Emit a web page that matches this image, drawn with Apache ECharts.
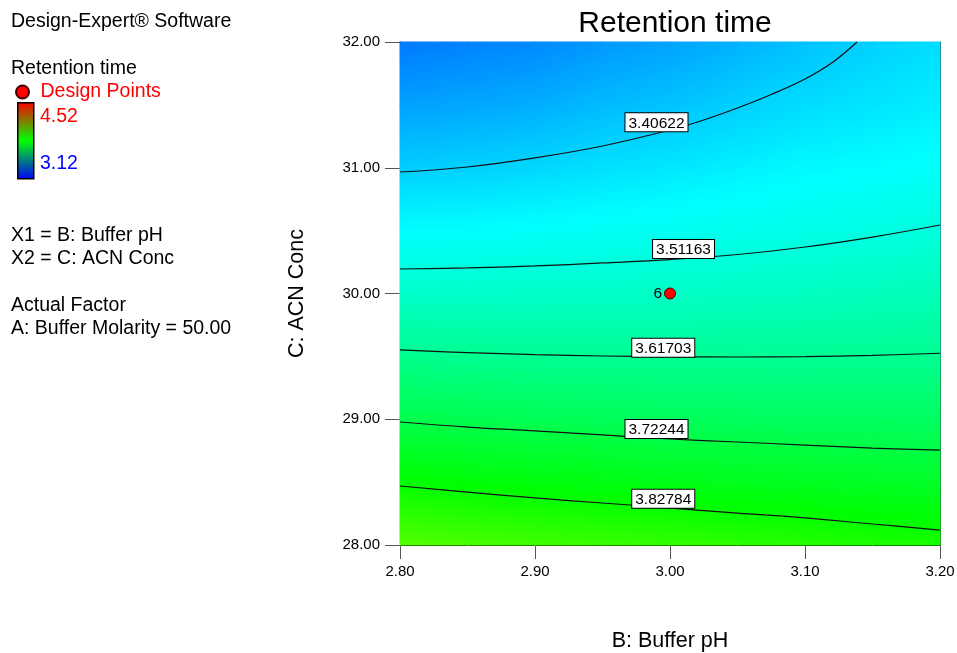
<!DOCTYPE html>
<html>
<head>
<meta charset="utf-8">
<script src="https://cdn.jsdelivr.net/npm/echarts@6/dist/echarts.min.js"></script>
<style>
html,body{margin:0;padding:0;background:#fff;}
#chart{width:957px;height:653px;}
</style>
</head>
<body>
<div id="chart"></div>
<script>
// ---------------- data ----------------
const chartTitle = 'Retention time';
const xAxisName = 'B: Buffer pH';
const yAxisName = 'C: ACN Conc';
const xTicks = [2.80, 2.90, 3.00, 3.10, 3.20];
const yTicks = [28.00, 29.00, 30.00, 31.00, 32.00];

// response surface grid (rows: ACN Conc, columns: Buffer pH)
const gridPH = [2.80, 2.85, 2.90, 2.95, 3.00, 3.05, 3.10, 3.15, 3.20];
const gridACN = [28.0, 28.5, 29.0, 29.5, 30.0, 30.5, 31.0, 31.5, 32.0];
const retention = [
  [3.934, 3.919, 3.907, 3.896, 3.888, 3.878, 3.869, 3.859, 3.849],
  [3.822, 3.812, 3.803, 3.796, 3.788, 3.782, 3.776, 3.770, 3.765],
  [3.718, 3.711, 3.706, 3.701, 3.697, 3.694, 3.691, 3.689, 3.688],
  [3.626, 3.622, 3.619, 3.618, 3.616, 3.616, 3.616, 3.619, 3.621],
  [3.543, 3.543, 3.544, 3.545, 3.549, 3.552, 3.556, 3.562, 3.568],
  [3.470, 3.472, 3.477, 3.483, 3.489, 3.495, 3.502, 3.508, 3.516],
  [3.402, 3.407, 3.415, 3.428, 3.437, 3.450, 3.462, 3.469, 3.478],
  [3.342, 3.349, 3.359, 3.376, 3.388, 3.404, 3.423, 3.434, 3.448],
  [3.287, 3.299, 3.308, 3.330, 3.344, 3.364, 3.385, 3.407, 3.425]
];

// contour lines
const contourLevels = [3.40622, 3.51163, 3.61703, 3.72244, 3.82784];
const contour1 = [[2.80,30.966],[2.85,31.006],[2.90,31.078],[2.95,31.173],[3.00,31.300],[3.025,31.380],[3.05,31.475],[3.075,31.583],[3.10,31.706],[3.12,31.835],[3.1385,32.0]];
const contour2 = [[2.80,30.195],[2.85,30.203],[2.90,30.219],[2.95,30.243],[3.00,30.270],[3.05,30.310],[3.10,30.370],[3.15,30.449],[3.20,30.545]];
const contour3 = [[2.80,29.551],[2.85,29.530],[2.90,29.514],[2.95,29.503],[3.00,29.497],[3.05,29.495],[3.10,29.498],[3.15,29.508],[3.20,29.525]];
const contour4 = [[2.80,28.978],[2.85,28.938],[2.90,28.907],[2.95,28.875],[3.00,28.843],[3.05,28.819],[3.10,28.795],[3.15,28.771],[3.20,28.755]];
const contour5 = [[2.80,28.469],[2.85,28.421],[2.90,28.374],[2.95,28.334],[3.00,28.294],[3.05,28.254],[3.10,28.215],[3.15,28.167],[3.20,28.119]];
const contourLabelAnchors = [[2.990,31.290],[3.010,30.282],[2.995,29.497],[2.990,28.851],[2.995,28.297]];

// design points: [pH, ACN, replicate count]
const designPoints = [[3.00, 30.00, 6]];

// legend range
const legendMax = 4.52;
const legendMin = 3.12;

// ---------------- styling ----------------
const FONT = "'Liberation Sans', Arial, Helvetica, sans-serif";
// Design-Expert style colour ramp over the legend range: blue, cyan, green, yellow, red
const rampColors = [[0,0,255],[0,255,255],[0,255,0],[255,255,0],[255,0,0]];

function colorOf(v) {
  let t = (v - legendMin) / (legendMax - legendMin);
  t = Math.max(0, Math.min(1, t));
  const seg = t * (rampColors.length - 1);
  let i = Math.floor(seg);
  if (i >= rampColors.length - 1) i = rampColors.length - 2;
  const f = seg - i;
  const a = rampColors[i], b = rampColors[i + 1];
  const c = a.map((ch, k) => Math.round(ch + (b[k] - ch) * f));
  return 'rgb(' + c[0] + ',' + c[1] + ',' + c[2] + ')';
}

const cells = [];
for (let r = 0; r < gridACN.length - 1; r++) {
  for (let c = 0; c < gridPH.length - 1; c++) {
    cells.push([gridPH[c], gridACN[r], gridPH[c + 1], gridACN[r + 1],
      retention[r][c], retention[r][c + 1], retention[r + 1][c], retention[r + 1][c + 1]]);
  }
}

function renderCell(params, api) {
  const x0 = api.value(0), y0 = api.value(1), x1 = api.value(2), y1 = api.value(3);
  const v00 = api.value(4), v10 = api.value(5), v01 = api.value(6), v11 = api.value(7);
  const pA = api.coord([x0, y0]);
  const pB = api.coord([x1, y1]);
  const left = pA[0], right = pB[0], top = pB[1], bottom = pA[1];
  const w = right - left, h = bottom - top;
  const gx = ((v10 - v00) + (v11 - v01)) / 2 / w;
  const gy = ((v00 - v01) + (v10 - v11)) / 2 / h;
  const vc = (v00 + v10 + v01 + v11) / 4;
  const cx = left + w / 2, cy = top + h / 2;
  const g = Math.hypot(gx, gy);
  let fill;
  if (g < 1e-12) {
    fill = colorOf(vc);
  } else {
    const ux = gx / g, uy = gy / g;
    const L = Math.hypot(w, h) / 2 + 2;
    const vs = vc - g * L, ve = vc + g * L;
    const stops = [];
    for (let k = 0; k <= 12; k++) stops.push({ offset: k / 12, color: colorOf(vs + (ve - vs) * k / 12) });
    fill = { type: 'linear', x: cx - ux * L, y: cy - uy * L, x2: cx + ux * L, y2: cy + uy * L, global: true, colorStops: stops };
  }
  return { type: 'rect', shape: { x: left - 0.5, y: top - 0.5, width: w + 1, height: h + 1 }, style: { fill: fill } };
}

const contours = [contour1, contour2, contour3, contour4, contour5];
const contourSeries = contours.map((pts, i) => ({
  type: 'line',
  name: 'contour ' + contourLevels[i],
  data: pts,
  smooth: 0.4,
  symbol: 'none',
  silent: true,
  lineStyle: { color: '#111', width: 1.2 },
  z: 3
}));

const labelData = contourLabelAnchors.map((p, i) => ({ value: [p[0], p[1]], level: contourLevels[i] }));

const chart = echarts.init(document.getElementById('chart'), null, { renderer: 'canvas' });
const axisNameStyle = { fontSize: 21.5, color: '#000', fontFamily: FONT };
const tickLabelStyle = { fontSize: 15, color: '#000', fontFamily: FONT };
const panelFont = 19.5;

chart.setOption({
  animation: false,
  backgroundColor: '#fff',
  textStyle: { fontFamily: FONT },
  title: {
    text: chartTitle,
    left: 670,
    textAlign: 'center',
    top: 4,
    textStyle: { fontSize: 30, fontWeight: 'normal', color: '#000', fontFamily: FONT }
  },
  legend: {
    data: ['Design Points'],
    left: 15,
    top: 82,
    padding: 0,
    icon: 'circle',
    itemWidth: 26,
    itemHeight: 13,
    selectedMode: false,
    textStyle: { color: '#ff0000', fontSize: panelFont, fontFamily: FONT }
  },
  grid: { left: 400, top: 42, width: 540, height: 503, containLabel: false, outerBoundsMode: 'none' },
  xAxis: [{
    type: 'value', min: xTicks[0], max: xTicks[xTicks.length - 1], interval: 0.1,
    name: xAxisName, nameLocation: 'middle', nameGap: 85, nameTextStyle: axisNameStyle,
    axisLine: { show: true, lineStyle: { color: '#000', width: 1 } },
    axisTick: { show: true, inside: false, length: 14, lineStyle: { color: '#555' } },
    axisLabel: { margin: 19, formatter: v => v.toFixed(2), ...tickLabelStyle },
    splitLine: { show: false }
  }, {
    type: 'value', position: 'top', min: xTicks[0], max: xTicks[xTicks.length - 1],
    axisLine: { show: true, lineStyle: { color: '#333', width: 1 } },
    axisTick: { show: false }, axisLabel: { show: false }, splitLine: { show: false }
  }],
  yAxis: [{
    type: 'value', min: yTicks[0], max: yTicks[yTicks.length - 1], interval: 1,
    name: yAxisName, nameLocation: 'middle', nameGap: 92, nameRotate: 90, nameTextStyle: axisNameStyle,
    axisLine: { show: true, lineStyle: { color: '#000', width: 1 } },
    axisTick: { show: true, inside: false, length: 15, lineStyle: { color: '#555' } },
    axisLabel: { margin: 20, formatter: v => v.toFixed(2), ...tickLabelStyle },
    splitLine: { show: false }
  }, {
    type: 'value', position: 'right', min: yTicks[0], max: yTicks[yTicks.length - 1],
    axisLine: { show: true, lineStyle: { color: '#444', width: 1 } },
    axisTick: { show: false }, axisLabel: { show: false }, splitLine: { show: false }
  }],
  series: [
    {
      type: 'custom',
      name: 'surface',
      renderItem: renderCell,
      data: cells,
      silent: true,
      z: 1,
      encode: { x: [0, 2], y: [1, 3] }
    },
    ...contourSeries,
    {
      type: 'scatter',
      name: 'contour labels',
      data: labelData,
      symbolSize: 0,
      silent: true,
      z: 5,
      itemStyle: { opacity: 1 },
      label: {
        show: true,
        position: 'top',
        distance: 0,
        opacity: 1,
        formatter: p => p.data.level.toFixed(5),
        backgroundColor: '#ffffff',
        borderColor: '#000',
        borderWidth: 1,
        padding: [2, 3, 0, 3],
        color: '#000',
        fontSize: 15.5,
        fontFamily: FONT
      }
    },
    {
      type: 'scatter',
      name: 'Design Points',
      data: designPoints,
      symbol: 'circle',
      symbolSize: 11,
      z: 6,
      itemStyle: { color: '#ff0000', borderColor: '#400', borderWidth: 1, opacity: 1 },
      label: {
        show: true,
        position: 'left',
        distance: 2,
        formatter: p => String(p.value[2]),
        color: '#000',
        fontSize: 15.5,
        fontFamily: FONT
      }
    }
  ],
  graphic: [
    { type: 'text', left: 11, top: 12, style: { text: 'Design-Expert® Software', fontSize: panelFont, fontFamily: FONT, fill: '#000' } },
    { type: 'text', left: 11, top: 59, style: { text: 'Retention time', fontSize: panelFont, fontFamily: FONT, fill: '#000' } },
    {
      type: 'rect', left: 17, top: 102,
      shape: { width: 16, height: 76 },
      style: {
        fill: { type: 'linear', x: 0, y: 0, x2: 0, y2: 1, colorStops: [
          { offset: 0, color: '#ff0000' }, { offset: 0.5, color: '#00ff00' }, { offset: 1, color: '#0000ff' }] },
        stroke: '#000', lineWidth: 1.5
      }
    },
    { type: 'text', left: 40, top: 107, style: { text: legendMax.toFixed(2), fontSize: panelFont, fontFamily: FONT, fill: '#ff0000' } },
    { type: 'text', left: 40, top: 154, style: { text: legendMin.toFixed(2), fontSize: panelFont, fontFamily: FONT, fill: '#0000ff' } },
    { type: 'text', left: 11, top: 226, style: { text: 'X1 = ' + xAxisName, fontSize: panelFont, fontFamily: FONT, fill: '#000' } },
    { type: 'text', left: 11, top: 249, style: { text: 'X2 = ' + yAxisName, fontSize: panelFont, fontFamily: FONT, fill: '#000' } },
    { type: 'text', left: 11, top: 296, style: { text: 'Actual Factor', fontSize: panelFont, fontFamily: FONT, fill: '#000' } },
    { type: 'text', left: 11, top: 319, style: { text: 'A: Buffer Molarity = 50.00', fontSize: panelFont, fontFamily: FONT, fill: '#000' } }
  ]
});
</script>
</body>
</html>
